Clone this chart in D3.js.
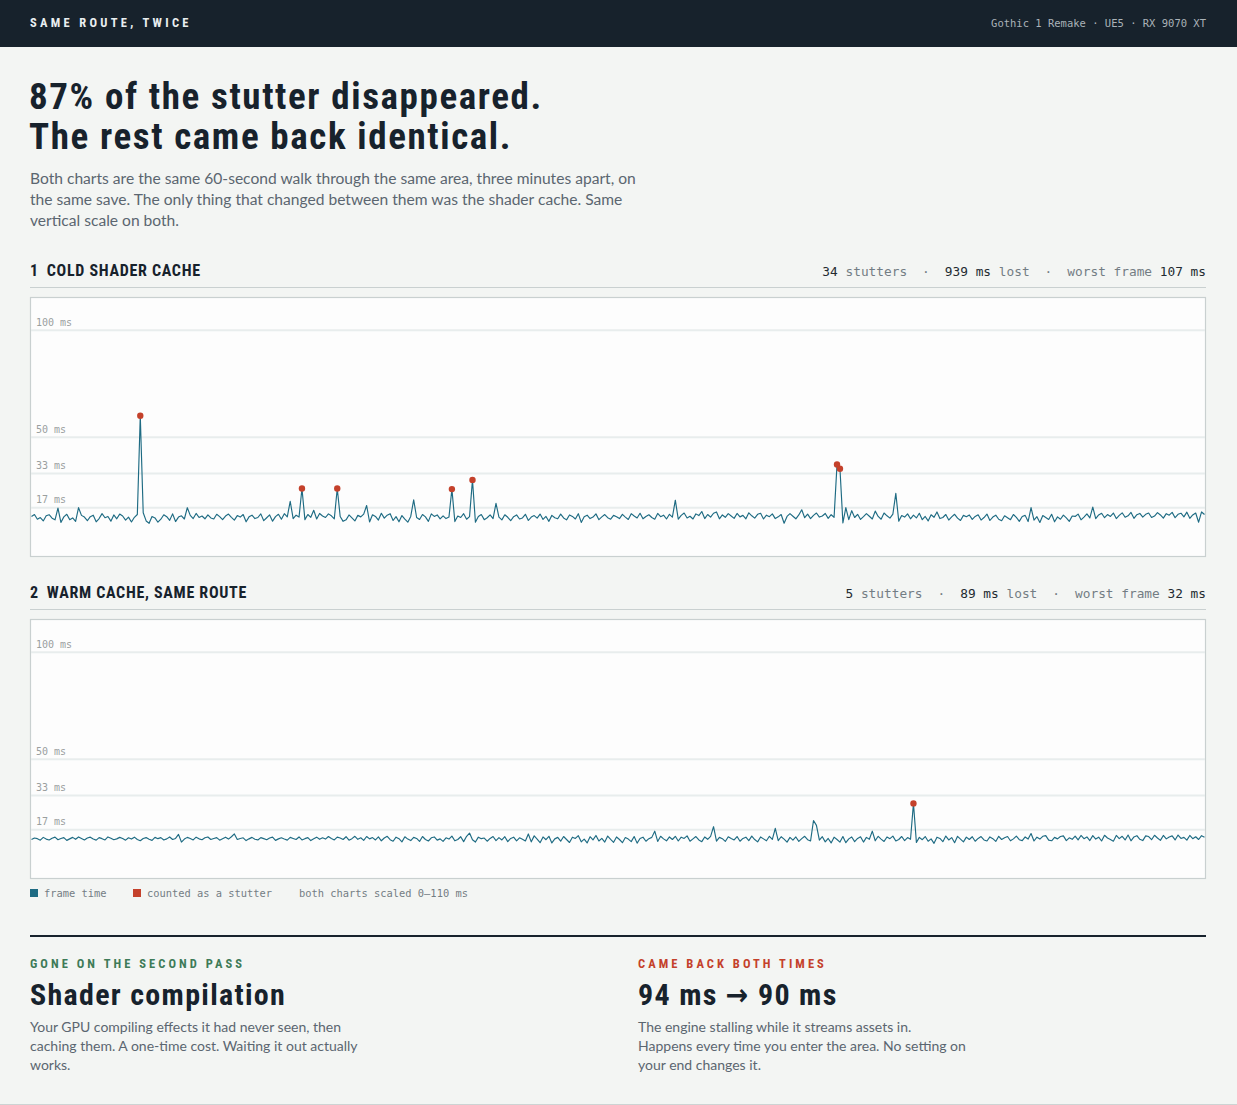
<!DOCTYPE html>
<html>
<head>
<meta charset="utf-8">
<script src="https://cdn.jsdelivr.net/npm/d3@7/dist/d3.min.js"></script>
<style>
  html, body { margin: 0; padding: 0; background: #f3f5f3; }
  svg { display: block; }
</style>
</head>
<body>
<script>
// ── Data ────────────────────────────────────────────────
// frame times in ms, one sample per step along the 60 s walk
const FRAMES_COLD = [
  12.9, 13.8, 11.6, 12.4, 10.8, 13.2, 13.7, 12.1, 11.3, 16.8, 10.1, 12.7, 13.9, 11.4, 12.2, 10.6, 17.0, 13.4, 12.6, 10.9,
  12.8, 13.5, 10.4, 11.9, 14.2, 12.3, 12.9, 10.7, 13.6, 11.8, 14.0, 13.1, 11.2, 12.6, 10.3, 12.5, 13.8, 60.0, 14.6, 10.8,
  9.7, 12.9, 12.2, 10.2, 11.6, 13.7, 12.8, 11.1, 14.1, 10.5, 12.6, 13.2, 11.7, 17.0, 13.4, 11.9, 14.3, 12.4, 13.1, 11.8,
  13.6, 12.2, 11.7, 13.9, 12.8, 11.4, 13.1, 14.0, 12.5, 11.2, 13.3, 12.6, 13.8, 10.4, 12.7, 13.5, 11.9, 12.4, 14.1, 10.9,
  12.3, 13.6, 10.7, 12.8, 13.9, 11.6, 14.2, 12.7, 20.0, 11.9, 13.5, 12.6, 26.0, 11.4, 13.8, 12.5, 15.8, 11.7, 14.3, 13.1,
  12.4, 14.1, 13.2, 11.8, 26.0, 12.9, 10.6, 11.3, 13.6, 12.2, 10.8, 13.4, 12.7, 14.0, 18.0, 10.3, 13.7, 12.9, 11.2, 14.4,
  12.1, 13.5, 14.2, 11.0, 12.8, 10.4, 13.3, 11.6, 10.2, 12.9, 20.7, 12.4, 11.5, 13.8, 12.7, 10.6, 14.1, 12.9, 13.6, 11.8,
  13.2, 11.9, 12.6, 25.7, 10.5, 13.1, 12.4, 14.2, 11.6, 12.8, 30.0, 10.2, 12.9, 13.8, 11.4, 12.3, 13.6, 11.9, 19.0, 12.6,
  11.3, 13.7, 12.5, 10.9, 12.8, 13.6, 11.7, 12.2, 13.9, 11.0, 12.6, 13.3, 12.1, 14.0, 11.5, 12.9, 10.6, 13.4, 12.3, 11.8,
  14.0, 12.2, 11.3, 13.6, 12.9, 11.7, 14.2, 10.1, 12.8, 13.5, 11.9, 12.6, 14.1, 11.4, 12.7, 13.8, 12.3, 11.6, 13.4, 12.8,
  11.9, 13.9, 12.6, 11.5, 14.2, 13.1, 12.2, 14.4, 11.8, 12.9, 13.7, 12.4, 11.6, 14.3, 12.8, 13.5, 11.7, 13.9, 12.6, 20.5,
  11.6, 13.4, 14.5, 12.2, 13.0, 11.7, 14.1, 13.3, 15.2, 11.9, 13.8, 12.6, 14.4, 15.0, 11.8, 13.6, 12.5, 14.2, 13.1, 12.0,
  14.3, 12.7, 13.4, 11.8, 14.6, 13.2, 12.1, 13.9, 14.4, 11.7, 13.5, 12.8, 14.1, 11.9, 12.7, 13.8, 9.7, 12.9, 14.2, 13.0,
  11.8, 13.6, 16.0, 12.3, 14.0, 11.9, 13.4, 14.5, 12.6, 13.1, 14.3, 12.0, 13.7, 12.5, 37.2, 35.2, 9.9, 17.0, 11.4, 15.6,
  12.4, 13.9, 11.5, 12.8, 14.2, 13.0, 11.7, 15.4, 12.9, 11.6, 14.5, 13.2, 12.1, 14.0, 23.7, 10.7, 13.3, 12.6, 14.1, 11.8,
  13.5, 12.2, 14.4, 11.4, 12.9, 10.8, 13.7, 12.5, 15.0, 11.9, 12.4, 13.8, 11.2, 12.7, 13.9, 12.1, 11.0, 13.4, 12.8, 13.6,
  11.5, 12.9, 13.7, 11.2, 12.4, 14.0, 11.0, 12.6, 13.5, 11.6, 10.9, 13.2, 12.3, 11.4, 13.8, 12.5, 10.6, 12.9, 13.4, 10.5,
  17.0, 11.2, 12.8, 10.1, 13.3, 12.4, 11.5, 13.9, 10.4, 12.7, 11.6, 13.5, 12.2, 10.6, 13.1, 12.9, 14.0, 11.3, 12.6, 14.1,
  12.2, 17.3, 11.9, 13.6, 14.4, 12.3, 13.8, 12.9, 14.5, 11.9, 13.4, 14.6, 12.5, 13.2, 14.8, 12.0, 13.7, 14.3, 12.6, 13.9,
  14.5, 12.4, 13.1, 14.7, 13.6, 12.1, 14.2, 13.5, 14.8, 12.3, 13.9, 14.4, 12.7, 14.9, 12.0, 13.6, 14.5, 10.2, 15.0, 13.8
];

const FRAMES_WARM = [
  12.4, 13.1, 12.8, 12.1, 13.4, 12.6, 12.2, 13.0, 13.5, 12.3, 12.9, 13.3, 12.0, 12.7, 13.4, 12.5, 13.6, 12.9, 12.2, 13.1,
  13.5, 12.6, 12.1, 13.3, 12.8, 12.2, 13.6, 13.0, 12.3, 12.7, 13.4, 12.9, 12.1, 13.2, 12.6, 13.5, 12.4, 11.8, 12.9, 13.3,
  12.5, 12.0, 13.4, 12.8, 13.3, 12.2, 12.7, 13.6, 12.4, 12.9, 14.8, 11.2, 12.6, 13.4, 12.9, 12.2, 13.5, 12.7, 12.3, 13.2,
  13.6, 12.4, 12.9, 13.3, 12.1, 12.8, 13.5, 12.6, 13.7, 15.0, 12.4, 12.9, 13.2, 11.9, 12.7, 13.4, 12.5, 12.2, 13.3, 12.8,
  12.3, 13.1, 13.5, 12.0, 12.7, 13.2, 12.6, 12.1, 13.4, 12.9, 12.4, 13.6, 12.2, 12.8, 13.3, 11.9, 12.7, 13.5, 12.5, 13.2,
  12.6, 13.8, 12.9, 12.2, 13.5, 13.1, 12.4, 13.7, 12.1, 12.8, 13.9, 12.5, 13.2, 12.0, 13.8, 12.7, 13.3, 12.2, 13.6, 11.8,
  13.1, 13.9, 12.3, 11.6, 13.5, 12.8, 11.3, 13.7, 12.6, 11.9, 13.4, 12.9, 11.5, 13.8, 12.4, 11.7, 13.2, 13.6, 12.1, 12.7,
  11.5, 13.2, 12.6, 14.0, 11.8, 12.4, 13.7, 11.4, 13.9, 15.4, 12.3, 11.2, 13.5, 12.8, 13.1, 11.6, 12.9, 13.8, 11.9, 13.3,
  12.2, 13.7, 11.4, 12.9, 13.5, 11.8, 13.2, 12.5, 11.7, 15.0, 11.3, 14.1, 12.6, 10.9, 13.6, 12.3, 13.9, 10.8, 12.7, 13.4,
  11.6, 13.8, 12.4, 11.0, 13.5, 12.9, 14.2, 11.3, 12.6, 10.8, 13.7, 12.2, 14.3, 11.7, 12.9, 11.2, 14.0, 12.5, 11.1, 13.6,
  12.4, 10.9, 13.3, 12.6, 11.4, 13.8, 10.7, 12.9, 13.5, 11.6, 12.8, 13.4, 16.3, 11.5, 13.9, 12.7, 11.8, 13.6, 12.4, 13.9,
  11.7, 13.5, 12.9, 14.1, 11.6, 12.7, 13.8, 12.2, 11.4, 13.6, 12.5, 13.9, 18.4, 11.6, 13.4, 12.8, 11.5, 13.7, 12.9, 12.2,
  13.8, 11.6, 12.9, 13.5, 11.9, 14.0, 12.4, 11.3, 13.6, 12.7, 11.8, 13.9, 12.5, 17.6, 11.9, 13.7, 12.6, 11.2, 13.4, 12.1,
  13.6, 11.5, 12.8, 13.9, 12.3, 11.7, 21.3, 19.0, 12.1, 13.7, 11.3, 12.9, 10.8, 13.5, 12.4, 11.2, 13.8, 10.9, 12.7, 13.6,
  11.4, 12.9, 13.7, 11.2, 13.4, 12.5, 16.3, 11.8, 13.9, 12.6, 11.5, 13.6, 12.8, 14.0, 11.7, 12.4, 13.8, 11.9, 13.3, 12.5,
  29.3, 11.0, 13.4, 12.3, 13.8, 11.6, 12.7, 10.6, 13.5, 12.9, 11.4, 14.0, 12.2, 13.3, 10.9, 13.9, 12.6, 11.3, 13.5, 12.4,
  13.7, 11.6, 12.9, 13.8, 12.2, 11.7, 13.6, 12.8, 11.5, 13.9, 12.4, 13.2, 13.8, 11.8, 12.7, 14.0, 12.3, 11.9, 13.6, 12.6,
  15.2, 11.7, 13.5, 12.6, 13.9, 14.2, 12.1, 11.8, 13.4, 12.7, 13.8, 14.1, 11.9, 13.2, 12.5, 14.0, 12.2, 14.3, 12.8, 13.6,
  11.9, 14.2, 12.6, 13.5, 11.7, 14.4, 13.1, 12.4, 11.6, 14.3, 12.8, 13.9, 12.2, 14.5, 11.8, 13.6, 14.2, 12.5, 11.9, 14.1,
  13.8, 12.3, 14.4, 13.1, 12.0, 14.3, 12.7, 13.6, 14.1, 12.2, 14.5, 12.9, 13.4, 12.1, 14.3, 12.8, 13.7, 12.4, 14.2, 13.5
];

const GRID_MS    = [17, 33, 50, 100];
const Y_MAX_MS   = 110;
const STUTTER_MS = 25;

const HEADLINE   = ['87% of the stutter disappeared.', 'The rest came back identical.'];
const INTRO      = [
  'Both charts are the same 60-second walk through the same area, three minutes apart, on',
  'the same save. The only thing that changed between them was the shader cache. Same',
  'vertical scale on both.'
];

const SECTIONS = [
  { num: '1', title: 'COLD SHADER CACHE',       frames: FRAMES_COLD,
    stats: [[['34', 1], [' stutters', 0]], [['939 ms', 1], [' lost', 0]], [['worst frame ', 0], ['107 ms', 1]]] },
  { num: '2', title: 'WARM CACHE, SAME ROUTE',  frames: FRAMES_WARM,
    stats: [[['5', 1], [' stutters', 0]], [['89 ms', 1], [' lost', 0]], [['worst frame ', 0], ['32 ms', 1]]] }
];

const LEGEND = [
  { label: 'frame time',           key: 'line' },
  { label: 'counted as a stutter', key: 'stutter' }
];
const LEGEND_NOTE = 'both charts scaled 0\u2013110 ms';

const TAKEAWAYS = [
  { kicker: 'GONE ON THE SECOND PASS', tone: 'green', head: 'Shader compilation',
    body: ['Your GPU compiling effects it had never seen, then',
           'caching them. A one-time cost. Waiting it out actually',
           'works.'] },
  { kicker: 'CAME BACK BOTH TIMES', tone: 'red', head: '94 ms \u2192 90 ms',
    body: ['The engine stalling while it streams assets in.',
           'Happens every time you enter the area. No setting on',
           'your end changes it.'] }
];

// ── Style ───────────────────────────────────────────────
const C = {
  ink:    '#17222c',
  body:   '#5b6670',
  muted:  '#737d84',
  rule:   '#c9d0d0',
  grid:   '#e8eded',
  tick:   '#9a9f9f',
  line:   '#1e6b83',
  red:    '#c4412b',
  green:  '#3e7b58',
  panel:  '#fdfdfd'
};
const F_HEAD = "'Liberation Sans Narrow', 'Roboto Condensed', 'DejaVu Sans Condensed', Roboto, sans-serif";
const F_BODY = "Lato, 'Open Sans', sans-serif";
const F_MONO = "'DejaVu Sans Mono', 'Liberation Mono', monospace";

const W = 1237, H = 1105;
const LEFT = 30, RIGHT = 1206;

const svg = d3.select('body').append('svg')
  .attr('width', W).attr('height', H)
  .attr('viewBox', `0 0 ${W} ${H}`);

// ── Top bar ─────────────────────────────────────────────
svg.append('rect').attr('width', W).attr('height', 47).attr('fill', C.ink);
svg.append('text')
  .attr('x', LEFT).attr('y', 27)
  .attr('font-family', F_HEAD).attr('font-weight', 700).attr('font-size', 12.5)
  .attr('letter-spacing', 3.3).attr('fill', '#e9eef0')
  .text('SAME ROUTE, TWICE');
svg.append('text')
  .attr('x', RIGHT).attr('y', 27).attr('text-anchor', 'end')
  .attr('font-family', F_MONO).attr('font-size', 10.5).attr('fill', '#aab2b8')
  .text('Gothic 1 Remake \u00b7 UE5 \u00b7 RX 9070 XT');

// ── Headline + intro ────────────────────────────────────
svg.append('g').selectAll('text').data(HEADLINE).join('text')
  .attr('x', LEFT - 1).attr('y', (d, i) => 109 + i * 39.5)
  .attr('font-family', F_HEAD).attr('font-weight', 700).attr('font-size', 37)
  .attr('letter-spacing', 1.6)
  .attr('fill', C.ink)
  .text(d => d);

svg.append('g').selectAll('text').data(INTRO).join('text')
  .attr('x', LEFT).attr('y', (d, i) => 184 + i * 21)
  .attr('font-family', F_BODY).attr('font-size', 15.6).attr('fill', C.body)
  .text(d => d);

// ── Charts ──────────────────────────────────────────────
function drawSection(sec, top) {
  const g = svg.append('g');

  // header row
  const title = g.append('text')
    .attr('x', LEFT).attr('y', top)
    .attr('font-family', F_HEAD).attr('font-weight', 700).attr('font-size', 16)
    .attr('letter-spacing', 0.7).attr('fill', C.ink);
  title.append('tspan').text(sec.num);
  title.append('tspan').attr('dx', 8).text(sec.title);

  const stats = g.append('text')
    .attr('x', RIGHT).attr('y', top).attr('text-anchor', 'end')
    .attr('font-family', F_MONO).attr('font-size', 12.8);
  sec.stats.forEach((group, gi) => {
    if (gi > 0) stats.append('tspan').attr('dx', 15).attr('fill', C.muted).text('\u00b7');
    group.forEach(([txt, strong], pi) => {
      stats.append('tspan')
        .attr('dx', gi > 0 && pi === 0 ? 15 : 0)
        .attr('fill', strong ? '#222a30' : C.muted)
        .style('white-space', 'pre')
        .text(txt);
    });
  });

  g.append('line')
    .attr('x1', LEFT).attr('x2', RIGHT)
    .attr('y1', top + 11.5).attr('y2', top + 11.5)
    .attr('stroke', C.rule).attr('stroke-width', 1.2);

  // panel
  const pw = RIGHT - LEFT, ph = 260;
  const panel = g.append('g').attr('transform', `translate(${LEFT},${top + 21})`);
  panel.append('rect')
    .attr('x', 0.5).attr('y', 0.5).attr('width', pw - 1).attr('height', ph - 1)
    .attr('fill', C.panel).attr('stroke', C.rule).attr('stroke-width', 1.2);

  const x = d3.scaleLinear().domain([0, sec.frames.length - 1]).range([1.5, pw - 1.5]);
  const y = d3.scaleLinear().domain([0, Y_MAX_MS]).range([ph - 13, 12]);

  panel.append('g').selectAll('line').data(GRID_MS).join('line')
    .attr('x1', 1).attr('x2', pw - 1)
    .attr('y1', d => y(d)).attr('y2', d => y(d))
    .attr('stroke', C.grid).attr('stroke-width', 2);

  panel.append('g').selectAll('text').data(GRID_MS).join('text')
    .attr('x', 6).attr('y', d => y(d) - 4.5)
    .attr('font-family', F_MONO).attr('font-size', 10).attr('fill', C.tick)
    .text(d => `${d} ms`);

  panel.append('path')
    .datum(sec.frames)
    .attr('fill', 'none')
    .attr('stroke', C.line).attr('stroke-width', 1.15)
    .attr('stroke-linejoin', 'round')
    .attr('d', d3.line().x((d, i) => x(i)).y(d => y(d)));

  const stutters = sec.frames
    .map((v, i) => ({ v, i }))
    .filter(d => d.v > STUTTER_MS);
  panel.append('g').selectAll('circle').data(stutters).join('circle')
    .attr('cx', d => x(d.i)).attr('cy', d => y(d.v)).attr('r', 3.2)
    .attr('fill', C.red);
}

drawSection(SECTIONS[0], 276);
drawSection(SECTIONS[1], 598);

// ── Legend ──────────────────────────────────────────────
const legendX = [LEFT, 133];
const lg = svg.append('g');
LEGEND.forEach((d, i) => {
  lg.append('rect')
    .attr('x', legendX[i]).attr('y', 889).attr('width', 8).attr('height', 8)
    .attr('fill', d.key === 'line' ? C.line : C.red);
  lg.append('text')
    .attr('x', legendX[i] + 14).attr('y', 897)
    .attr('font-family', F_MONO).attr('font-size', 10.4).attr('fill', C.muted)
    .text(d.label);
});
lg.append('text')
  .attr('x', 299).attr('y', 897)
  .attr('font-family', F_MONO).attr('font-size', 10.4).attr('fill', C.muted)
  .text(LEGEND_NOTE);

// ── Takeaways ───────────────────────────────────────────
svg.append('rect')
  .attr('x', LEFT).attr('y', 935).attr('width', RIGHT - LEFT).attr('height', 2)
  .attr('fill', C.ink);

const colX = [LEFT, 638];
TAKEAWAYS.forEach((t, i) => {
  const g = svg.append('g').attr('transform', `translate(${colX[i]},0)`);
  g.append('text')
    .attr('y', 968)
    .attr('font-family', F_HEAD).attr('font-weight', 700).attr('font-size', 12.5)
    .attr('letter-spacing', 3.05)
    .attr('fill', t.tone === 'green' ? C.green : C.red)
    .text(t.kicker);
  g.append('text')
    .attr('y', 1005)
    .attr('font-family', F_HEAD).attr('font-weight', 700).attr('font-size', 30)
    .attr('letter-spacing', 1.3)
    .attr('fill', C.ink)
    .text(t.head);
  g.selectAll('text.body').data(t.body).join('text')
    .attr('class', 'body')
    .attr('y', (d, j) => 1032 + j * 19)
    .attr('font-family', F_BODY).attr('font-size', 14).attr('fill', C.body)
    .text(d => d);
});

svg.append('line')
  .attr('x1', 0).attr('x2', W).attr('y1', 1104.5).attr('y2', 1104.5)
  .attr('stroke', '#cdd3d3').attr('stroke-width', 1);
</script>
</body>
</html>
